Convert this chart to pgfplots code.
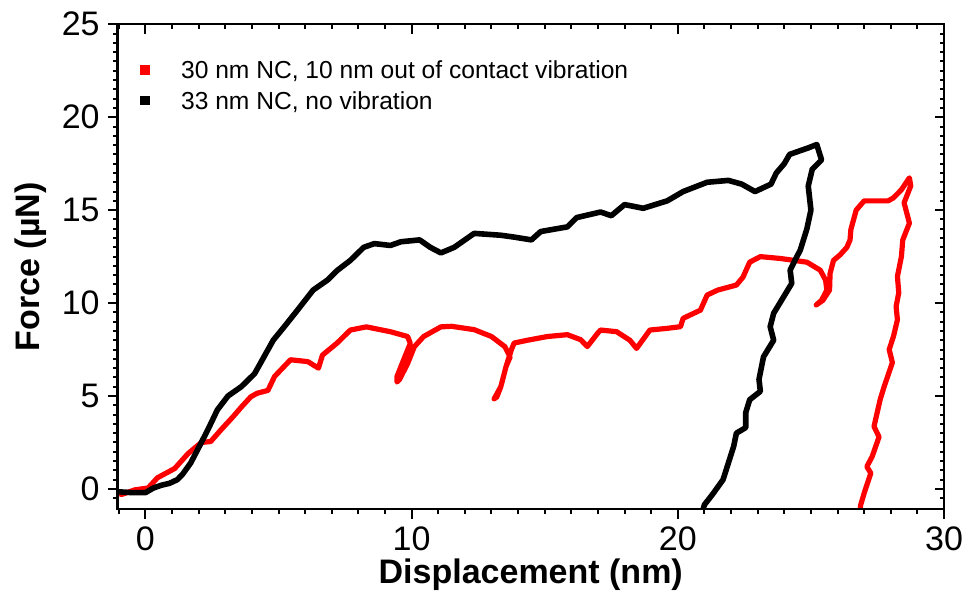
\documentclass[border=0pt]{standalone}
\usepackage{pgfplots}
\pgfplotsset{compat=1.18}
\usepackage{fontspec}
\setmainfont{Liberation Sans}
\begin{document}
\begin{tikzpicture}
\pgfplotsset{
 common/.style={width=413.25pt,height=242.35pt,scale only axis,
   xmin=-1.05,xmax=30,ymin=-1.08,ymax=25,
   xtick={0,10,20,30}, ytick={0,5,...,25},
   minor xtick={-1,0,...,30}, minor ytick={-0.5,0,...,25},
   axis line style={line width=1pt},
   every tick/.style={black,line width=1pt},
   major tick length=4.75pt, minor tick length=2.25pt},
}
\begin{axis}[common, tick align=outside, xtick pos=left, ytick pos=left,
  /pgf/number format/assume math mode=true,
  ticklabel style={font=\fontsize{17}{20}\selectfont},
  xticklabel style={inner sep=0pt, yshift=-4pt},
  yticklabel style={inner sep=0pt, xshift=-4pt},
  xlabel={Displacement (nm)}, ylabel={Force (µN)},
  label style={font=\fontsize{17}{20}\selectfont\bfseries},
  xlabel style={at={(axis description cs:0.5,-0.1527)}, anchor=base},
  ylabel style={at={(axis description cs:-0.0938,0.5)}, anchor=base},
  legend cell align=left,
  legend style={at={(axis description cs:0.0276,0.9374)}, anchor=north west,
    draw=none, fill=none, inner sep=0pt, outer sep=0pt, row sep=0pt, column sep=0pt,
    font=\fontsize{12.3}{14}\selectfont,
    nodes={inner xsep=0pt, inner ysep=3.27pt, text height=8.8pt, text depth=0pt, anchor=west}},
  legend image code/.code={\fill[#1, draw=none] (0pt,-2.3pt) rectangle (4.6pt,2.3pt); \path[draw=none, fill=none] (0pt,0pt) -- (20.4pt,0pt);},
]
\addlegendimage{red}
\addlegendentry{30 nm NC, 10 nm out of contact vibration}
\addlegendimage{black}
\addlegendentry{33 nm NC, no vibration}

\addplot[red, line width=2.6pt, line join=round, forget plot] coordinates {
(-1.05,-0.2)(-0.9,-0.3)(-0.4,-0.05)(0.1,0.05)(0.45,0.6)(1.1,1.1)(1.6,1.9)(2.1,2.5)
(2.45,2.55)(2.85,3.2)(3.3,3.9)(3.6,4.4)(3.96,4.96)(4.2,5.15)(4.6,5.3)(4.85,6.05)
(5.45,6.95)(6.1,6.85)(6.5,6.5)(6.65,7.2)(7.2,7.85)(7.7,8.55)(8.3,8.72)(9.2,8.46)
(9.85,8.2)(9.95,7.83)(9.7,6.95)(9.45,6.05)(9.45,5.75)(9.55,5.9)(9.85,6.75)(10.1,7.65)
(10.45,8.2)(11.1,8.72)(11.5,8.75)(12.35,8.57)(13.0,8.2)(13.5,7.66)(13.7,7.1)(13.55,6.6)
(13.35,5.5)(13.1,4.85)(13.2,4.95)(13.35,5.5)(13.55,6.6)(13.75,7.5)(13.85,7.85)(14.35,8.0)
(15.1,8.2)(15.85,8.3)(16.35,8.03)(16.6,7.66)(17.0,8.4)(17.1,8.55)(17.7,8.46)(18.2,8.0)
(18.45,7.56)(18.95,8.55)(19.6,8.64)(20.1,8.73)(20.2,9.18)(20.85,9.62)(21.1,10.43)(21.5,10.7)
(22.2,10.97)(22.45,11.4)(22.7,12.2)(23.1,12.5)(23.85,12.4)(24.35,12.3)(24.85,12.2)(25.35,11.77)
(25.55,11.24)(25.6,10.7)(25.4,10.15)(25.2,9.9)(25.45,10.15)(25.7,10.7)(25.72,11.6)(25.85,12.3)
(26.1,12.6)(26.35,13.0)(26.47,13.4)(26.5,13.95)(26.7,15.0)(27.0,15.5)(27.9,15.5)(28.1,15.66)
(28.4,16.1)(28.7,16.74)(28.75,16.3)(28.5,15.4)(28.7,14.3)(28.45,13.4)(28.4,12.5)(28.25,11.44)
(28.3,10.55)(28.2,9.82)(28.25,9.1)(28.1,8.2)(27.94,7.5)(28.06,6.8)(27.75,5.5)(27.6,4.8)
(27.37,3.36)(27.56,2.8)(27.3,1.74)(27.1,1.2)(27.25,0.85)(27.0,-0.23)(26.87,-0.86)(26.85,-1.1)
};
\addplot[black, line width=2.8pt, line join=round, forget plot] coordinates {
(-1.05,-0.15)(-0.5,-0.2)(0.0,-0.2)(0.3,0.05)(0.6,0.2)(0.9,0.3)(1.2,0.5)(1.4,0.8)
(1.7,1.4)(2.1,2.5)(2.35,3.2)(2.7,4.25)(3.1,5.0)(3.6,5.5)(4.1,6.2)(4.8,8.0)
(5.2,8.7)(5.7,9.6)(6.3,10.7)(6.85,11.25)(7.2,11.75)(7.7,12.3)(8.2,13.0)(8.6,13.2)
(9.2,13.1)(9.6,13.3)(10.3,13.4)(10.7,13.0)(11.1,12.7)(11.6,13.0)(12.35,13.75)(13.35,13.65)
(13.85,13.55)(14.5,13.4)(14.85,13.85)(15.85,14.1)(16.2,14.6)(17.1,14.9)(17.5,14.7)(18.0,15.3)
(18.7,15.1)(19.6,15.5)(20.2,16.0)(21.1,16.5)(21.9,16.6)(22.4,16.4)(22.9,16.0)(23.5,16.4)
(23.7,17.0)(24.0,17.5)(24.2,18.0)(24.9,18.35)(25.22,18.53)(25.4,17.7)(25.05,17.2)(24.9,16.3)
(25.0,15.0)(24.85,14.0)(24.6,12.85)(24.4,12.3)(24.22,11.77)(24.28,11.06)(23.9,10.16)(23.6,9.45)
(23.47,8.73)(23.6,8.0)(23.22,7.11)(23.05,5.9)(23.1,5.25)(22.7,4.8)(22.55,4.1)(22.55,3.3)
(22.2,3.0)(22.1,2.3)(21.9,1.4)(21.7,0.5)(21.5,0.1)(21.3,-0.3)(21.0,-0.85)(20.95,-1.1)
};
\end{axis}
\begin{axis}[common, tick align=inside, xtick pos=right, ytick pos=right,
  xticklabels={}, yticklabels={}]
\end{axis}
\pgfresetboundingbox
\path[use as bounding box] (-58.75pt,-43pt) rectangle (424.75pt,254.5pt);
\end{tikzpicture}
\end{document}
